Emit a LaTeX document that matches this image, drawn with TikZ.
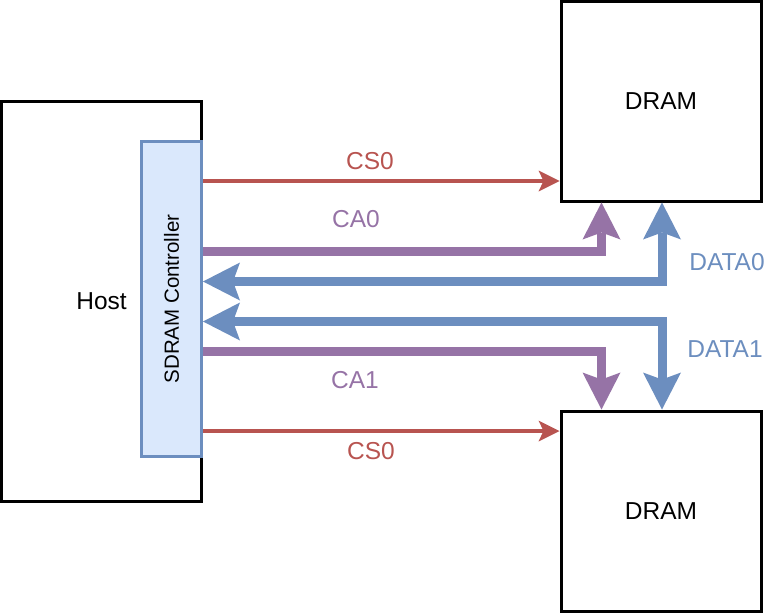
\documentclass[tikz,border=0pt]{standalone}
\usepackage{fontspec}
\setmainfont{Liberation Sans}
\usetikzlibrary{arrows.meta}
\definecolor{cred}{HTML}{B85450}
\definecolor{cpurple}{HTML}{9673A6}
\definecolor{cblue}{HTML}{6C8EBF}
\definecolor{cfill}{HTML}{DAE8FC}
\begin{document}
\begin{tikzpicture}[x=1pt,y=-1pt,
  BigT/.tip={Stealth[length=37pt,width=38pt,inset=7pt,line width=0pt]},
  SmallT/.tip={Stealth[length=21pt,width=21pt,inset=5pt,line width=0pt]},
  blackbox/.style={draw=black,line width=3pt,fill=white,inner sep=0pt},
  lbl/.style={font=\fontsize{24.5}{29}\selectfont},
  sig/.style={draw=cred,line width=3.5pt,-SmallT},
  ca/.style={draw=cpurple,line width=9pt,-BigT},
  dat/.style={draw=cblue,line width=9pt,BigT-BigT}]
\useasboundingbox (0,0) rectangle (777,613);
\node[blackbox,minimum width=200pt,minimum height=400pt,lbl] (host) at (101.5,301.5) {Host};
\node[draw=cblue,fill=cfill,line width=3pt,minimum width=60pt,minimum height=315pt,inner sep=0pt] (ctrl) at (171.5,299) {};
\node[rotate=90,font=\fontsize{20.5}{24}\selectfont] (ctrltext) at (ctrl.center) {SDRAM Controller};
\node[blackbox,minimum width=200pt,minimum height=200pt,lbl] (dram1) at (661,101) {DRAM};
\node[blackbox,minimum width=200pt,minimum height=200pt,lbl] (dram2) at (661,511) {DRAM};
% y levels
\coordinate (ycs0) at (0,181);
\coordinate (yca0) at (0,251);
\coordinate (yd0) at (0,281.5);
\coordinate (yd1) at (0,321.5);
\coordinate (yca1) at (0,351.5);
\coordinate (ycs1) at (0,431);
\coordinate (xca) at (601.5,0);
\coordinate (xd) at (662,0);
% connectors
\draw[sig] (ctrl.east |- ycs0) -- (dram1.west |- ycs0);
\draw[sig] (ctrl.east |- ycs1) -- (dram2.west |- ycs1);
\draw[ca] (ctrl.east |- yca0) -- (xca |- yca0) -- (xca |- dram1.south);
\draw[ca] (ctrl.east |- yca1) -- (xca |- yca1) -- (xca |- dram2.north);
\draw[dat] (xd |- dram1.south) -- (xd |- yd0) -- (ctrl.east |- yd0);
\draw[dat] (ctrl.east |- yd1) -- (xd |- yd1) -- (xd |- dram2.north);
% labels
\node[lbl,text=cred] (l1) at (370,161) {CS0};
\node[lbl,text=cpurple] (l2) at (356,219) {CA0};
\node[lbl,text=cblue] (l3) at (727,262) {DATA0};
\node[lbl,text=cblue] (l4) at (725,349) {DATA1};
\node[lbl,text=cpurple] (l5) at (355,380) {CA1};
\node[lbl,text=cred] (l6) at (371,451) {CS0};
\end{tikzpicture}
\end{document}
